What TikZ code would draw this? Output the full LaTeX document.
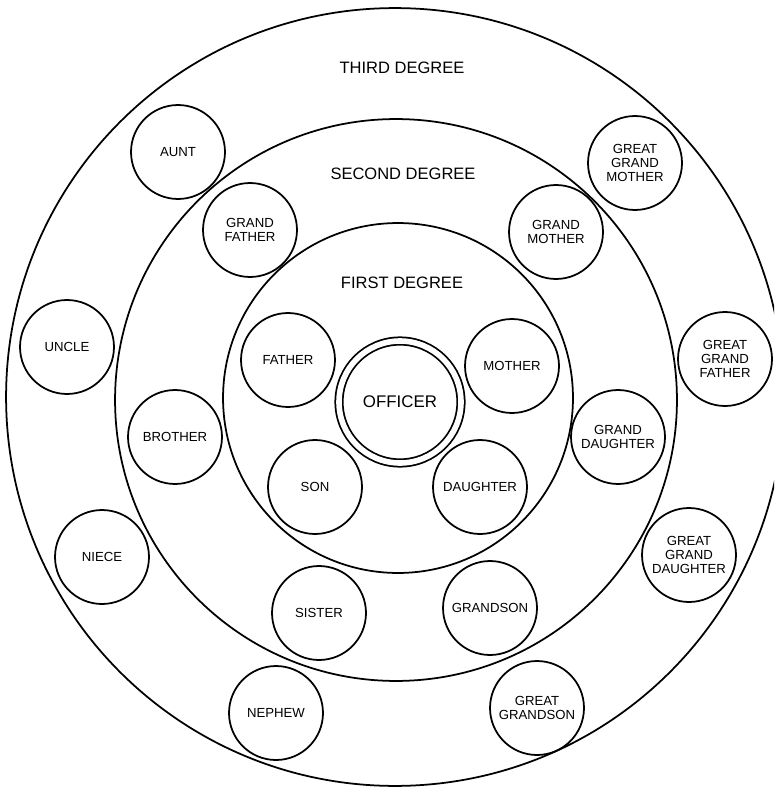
\documentclass[tikz,border=0pt]{standalone}
\usepackage{fontspec}
\setmainfont{Liberation Sans}

\begin{document}
\begin{tikzpicture}[x=0.02cm,y=-0.02cm,line width=1pt,
  member/.style={draw,circle,minimum size=1.88cm,inner sep=0pt,align=center,
    font=\fontsize{7.5}{7.8}\selectfont},
  degree/.style={font=\fontsize{9.4}{11}\selectfont}]
\useasboundingbox (0,0) rectangle (774,787);
\clip (0,0) rectangle (774,787);
% degree rings
\draw (395,397) circle (7.78cm);
\draw (396,400) circle (5.62cm);
\draw (398,398) circle (3.5cm);
\node[degree] (third)  at (402,68)  {THIRD DEGREE};
\node[degree] (second) at (403,174) {SECOND DEGREE};
\node[degree] (first)  at (402,283) {FIRST DEGREE};
% the officer
\node[draw,circle,double,double distance=3.2pt,minimum size=2.44cm,inner sep=0pt,
  font=\fontsize{9.6}{11}\selectfont] (officer) at (400,402) {OFFICER};
% first degree
\node[member] (father)   at (288,360) {FATHER};
\node[member] (mother)   at (512,366) {MOTHER};
\node[member] (son)      at (315,487) {SON};
\node[member] (daughter) at (480,487) {DAUGHTER};
% second degree
\node[member] (gfather)   at (250,230) {GRAND\\FATHER};
\node[member] (gmother)   at (556,232) {GRAND\\MOTHER};
\node[member] (brother)   at (175,437) {BROTHER};
\node[member] (gdaughter) at (618,437) {GRAND\\DAUGHTER};
\node[member] (sister)    at (319,613) {SISTER};
\node[member] (grandson)  at (490,608) {GRANDSON};
% third degree
\node[member] (aunt)       at (178,152) {AUNT};
\node[member] (ggmother)   at (635,163) {GREAT\\GRAND\\MOTHER};
\node[member] (uncle)      at (67,347)  {UNCLE};
\node[member] (ggfather)   at (725,359) {GREAT\\GRAND\\FATHER};
\node[member] (niece)      at (102,557) {NIECE};
\node[member] (ggdaughter) at (689,555) {GREAT\\GRAND\\DAUGHTER};
\node[member] (nephew)     at (276,713) {NEPHEW};
\node[member] (ggrandson)  at (537,708) {GREAT\\GRANDSON};
\end{tikzpicture}
\end{document}
